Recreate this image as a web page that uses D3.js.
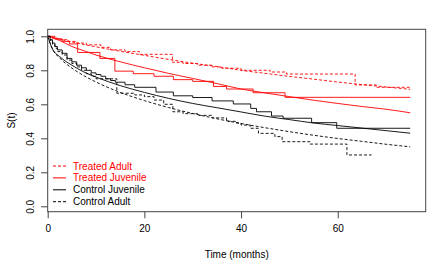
<!DOCTYPE html>
<html>
<head>
<meta charset="utf-8">
<script src="https://cdn.jsdelivr.net/npm/d3@7"></script>
<style>
body { margin: 0; background: #fff; }
svg { font-family: "Liberation Sans", Arial, sans-serif; }
</style>
</head>
<body>
<svg width="439" height="263"></svg>
<script>
// Kaplan-Meier steps (time in months, survival)
const taT = [0, 1, 2, 4, 6, 8, 11, 13, 16, 19, 25.8, 28, 31, 34, 36, 40, 46, 49.4, 63.6, 68, 75];
const taS = [1, 0.99, 0.98, 0.97, 0.96, 0.95, 0.935, 0.92, 0.91, 0.894, 0.847, 0.84, 0.83, 0.82, 0.812, 0.8, 0.79, 0.778, 0.714, 0.7, 0.7];

const tjT = [0, 1.5, 3, 4.5, 6.2, 10.8, 13.9, 17.7, 22, 26, 30, 34.3, 37, 42.5, 49.1, 75];
const tjS = [1, 0.985, 0.97, 0.955, 0.905, 0.87, 0.795, 0.78, 0.765, 0.745, 0.735, 0.705, 0.69, 0.668, 0.641, 0.641];

const cjT = [0, 0.5, 1, 1.5, 2, 3, 4, 5, 6, 7, 8, 9, 10, 11, 12, 13, 14, 16, 18, 22.4, 26, 30, 34, 38.4, 42, 43.2, 46.3, 48.7, 54.6, 59.8, 75];
const cjS = [1, 0.98, 0.96, 0.94, 0.92, 0.9, 0.87, 0.85, 0.83, 0.815, 0.8, 0.785, 0.775, 0.765, 0.75, 0.74, 0.73, 0.715, 0.7, 0.672, 0.65, 0.64, 0.62, 0.602, 0.576, 0.556, 0.531, 0.518, 0.492, 0.459, 0.459];

const caT = [0, 0.5, 1, 1.5, 2, 3, 4, 5, 6, 7, 8, 9, 10, 14.3, 18, 20, 22, 24, 25.9, 28, 31, 34, 37, 39, 40, 41.9, 43.6, 47, 48.5, 54.3, 61.9, 67];
const caS = [1, 0.975, 0.95, 0.93, 0.91, 0.89, 0.86, 0.84, 0.82, 0.8, 0.78, 0.765, 0.75, 0.665, 0.655, 0.645, 0.625, 0.6, 0.556, 0.545, 0.535, 0.52, 0.5, 0.49, 0.478, 0.459, 0.429, 0.41, 0.38, 0.366, 0.302, 0.302];

// fitted curves, read at these times
const fitT = [0, 1, 2.5, 5, 7.5, 10, 15, 20, 25, 30, 35, 40, 45, 50, 55, 60, 65, 70, 75];
const taFit = [1, 0.993, 0.983, 0.967, 0.952, 0.938, 0.912, 0.888, 0.864, 0.842, 0.822, 0.8, 0.782, 0.764, 0.748, 0.731, 0.716, 0.702, 0.688];
const tjFit = [1, 0.99, 0.975, 0.94, 0.915, 0.89, 0.85, 0.815, 0.782, 0.752, 0.722, 0.69, 0.667, 0.645, 0.624, 0.605, 0.587, 0.571, 0.55];
const cjFit = [1, 0.925, 0.88, 0.83, 0.79, 0.76, 0.71, 0.67, 0.635, 0.605, 0.58, 0.555, 0.53, 0.51, 0.49, 0.475, 0.46, 0.445, 0.43];
const caFit = [1, 0.924, 0.872, 0.813, 0.768, 0.731, 0.67, 0.622, 0.581, 0.546, 0.515, 0.487, 0.462, 0.439, 0.418, 0.399, 0.382, 0.365, 0.35];

const legendLabels = ["Treated Adult", "Treated Juvenile", "Control Juvenile", "Control Adult"];
const xTicks = [0, 20, 40, 60];
const yTicks = [0, 0.2, 0.4, 0.6, 0.8, 1.0];

const svg = d3.select("svg");
const boxL = 47.7, boxR = 425.7, boxT = 29.3, boxB = 211.7;

const x = d3.scaleLinear().domain([0, 78.2]).range([boxL, boxR]);
const y = d3.scaleLinear().domain([0, 1]).range([206.3, 36.3]);

const stepLine = d3.line().x(d => x(d[0])).y(d => y(d[1])).curve(d3.curveStepAfter);
const fitLine = d3.line().x(d => x(d[0])).y(d => y(d[1])).curve(d3.curveMonotoneX);

const curves = [
  { t: taT, s: taS, fit: taFit, color: "#ff0000", dash: "3,2" },
  { t: tjT, s: tjS, fit: tjFit, color: "#ff0000", dash: null },
  { t: cjT, s: cjS, fit: cjFit, color: "#000000", dash: null },
  { t: caT, s: caS, fit: caFit, color: "#000000", dash: "3,2" }
];

const plot = svg.append("g");
curves.forEach(c => {
  plot.append("path")
    .attr("d", stepLine(c.t.map((t, i) => [t, c.s[i]])))
    .attr("fill", "none")
    .attr("stroke", c.color)
    .attr("stroke-width", 0.9)
    .attr("stroke-dasharray", c.dash);
  plot.append("path")
    .attr("d", fitLine(fitT.map((t, i) => [t, c.fit[i]])))
    .attr("fill", "none")
    .attr("stroke", c.color)
    .attr("stroke-width", 0.9)
    .attr("stroke-dasharray", c.dash);
});

// box
svg.append("rect")
  .attr("x", boxL).attr("y", boxT)
  .attr("width", boxR - boxL).attr("height", boxB - boxT)
  .attr("fill", "none").attr("stroke", "#444").attr("stroke-width", 1);

// x axis
const xAxis = svg.append("g")
  .attr("transform", `translate(0,${boxB})`)
  .call(d3.axisBottom(x).tickValues(xTicks).tickSize(6.6).tickPadding(7).tickFormat(d3.format("d")));
xAxis.select(".domain").remove();
xAxis.selectAll("line").attr("stroke", "#444");
xAxis.selectAll("text").attr("font-size", 10).attr("fill", "#000")
  .attr("font-family", "Liberation Sans, Arial, sans-serif");

// y axis
const yAxis = svg.append("g")
  .attr("transform", `translate(${boxL},0)`)
  .call(d3.axisLeft(y).tickValues(yTicks).tickSize(6.6).tickFormat(d3.format(".1f")));
yAxis.select(".domain").remove();
yAxis.selectAll("line").attr("stroke", "#444");
yAxis.selectAll("text")
  .attr("font-size", 10).attr("fill", "#000")
  .attr("font-family", "Liberation Sans, Arial, sans-serif")
  .attr("x", 0).attr("dy", null)
  .attr("text-anchor", "middle")
  .attr("transform", "translate(-14,0) rotate(-90)");

svg.append("text")
  .attr("x", (boxL + boxR) / 2).attr("y", 258)
  .attr("text-anchor", "middle").attr("font-size", 10)
  .text("Time (months)");

svg.append("text")
  .attr("transform", "translate(15,120.5) rotate(-90)")
  .attr("text-anchor", "middle").attr("font-size", 10)
  .text("S(t)");

// legend
const legend = svg.append("g");
legendLabels.forEach((label, i) => {
  const c = curves[i];
  const ly = 166 + i * 11.9;
  legend.append("line")
    .attr("x1", 53).attr("x2", 66).attr("y1", ly).attr("y2", ly)
    .attr("stroke", c.color).attr("stroke-width", 1)
    .attr("stroke-dasharray", c.dash);
  legend.append("text")
    .attr("x", 73).attr("y", ly).attr("dy", "0.35em")
    .attr("font-size", 10).attr("fill", c.color)
    .text(label);
});
</script>
</body>
</html>
